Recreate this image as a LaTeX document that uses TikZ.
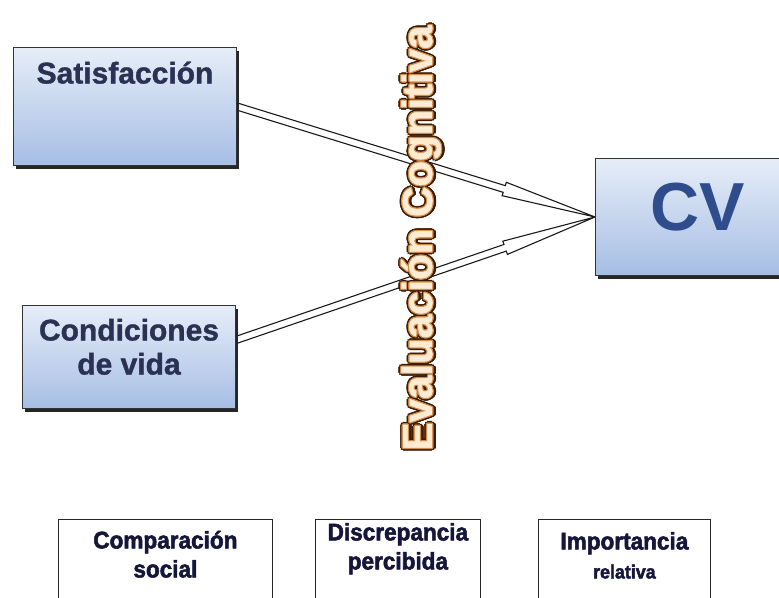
\documentclass[tikz,border=0pt]{standalone}
\usepackage{fontspec}
\setmainfont{Liberation Sans}
\newfontfamily\heavysans[BoldFeatures={FakeBold=2.2, FakeStretch=0.94}]{Liberation Sans}
\newfontfamily\titlesans[BoldFeatures={FakeBold=1.2}]{Liberation Sans}
\usetikzlibrary{positioning}
\usetikzlibrary{calc}
\usetikzlibrary{shadows}
\usetikzlibrary{backgrounds}

\definecolor{boxtop}{HTML}{E6EDF8}
\definecolor{boxbot}{HTML}{A6BEE4}
\definecolor{labelnavy}{HTML}{2A3152}
\definecolor{cvblue}{HTML}{2F4C8C}
\definecolor{bottomtext}{HTML}{15163A}
\definecolor{evaldark}{HTML}{3A1B06}
\definecolor{evalmid}{HTML}{D38A46}
\definecolor{evallight}{HTML}{FDEBD3}

% white double-lined arrow with an open head
\newcommand{\hollowarrow}[2]{%
  \coordinate (hb) at ($(#2)!95pt!(#1)$);
  \filldraw[hollow] ($(#1)!3.5pt!90:(#2)$) -- ($(hb)!3.5pt!90:(#2)$) -- ($(hb)!7pt!90:(#2)$)
    -- (#2) -- ($(hb)!7pt!-90:(#2)$) -- ($(hb)!3.5pt!-90:(#2)$) -- ($(#1)!3.5pt!-90:(#2)$) -- cycle;
}

\tikzset{
  bluebox/.style={draw=black!80, line width=1pt, top color=boxtop, bottom color=boxbot,
    inner sep=0pt, anchor=north west, text=labelnavy,
    drop shadow={shadow xshift=2.5pt, shadow yshift=-3.5pt, opacity=1, fill=black!85}},
  whitebox/.style={draw=black!85, line width=0.8pt, fill=white, inner sep=0pt,
    anchor=north west, align=center, text=bottomtext,
    font=\fontsize{24}{29}\selectfont\heavysans\bfseries},
  hollow/.style={draw=black!90, line width=1.1pt, fill=white, line join=miter},
  evaltext/.style={font=\fontsize{42}{48}\selectfont\titlesans\bfseries, inner sep=0pt, rotate=90},
}

\begin{document}
\begin{tikzpicture}[x=1pt, y=1pt]
  \useasboundingbox (0,0) rectangle (779,-597);

  \node[bluebox, minimum width=223pt, text height=36pt, text depth=82pt,
    font=\fontsize{30}{34}\selectfont\titlesans\bfseries] (sat) at (13,-47) {Satisfacción};
  \node[bluebox, align=center, minimum width=213pt, text height=69pt, text depth=34pt,
    font=\fontsize{30}{34}\selectfont\titlesans\bfseries] (cond) at (22,-305) {Condiciones\\de vida};
  \node[bluebox, minimum width=205pt, text height=72pt, text depth=45pt,
    font=\fontsize{68}{74}\selectfont\bfseries, text=cvblue] (cv) at (595,-158) {CV};

  \coordinate (condout) at ($(cond.east)+(0,17)$);
  \begin{scope}[on background layer]
    \hollowarrow{sat.east}{cv.west}
    \hollowarrow{condout}{cv.west}
  \end{scope}

  % outline and glow behind the vertical title
  \coordinate (evalc) at (421,-238);
  \foreach \dx/\dy in {2.8/0,2/2,0/2.8,-2/2,-2.8/0,-2/-2,0/-2.8,2/-2,3.4/-0.8,3.2/0.9,3.6/0}
    \node[evaltext, text=evaldark] at ($(evalc)+(\dx,\dy)$) {Evaluación Cognitiva};
  \foreach \dx/\dy in {1.2/0,0/1.2,-1.2/0,0/-1.2,.85/.85,-.85/-.85,.85/-.85,-.85/.85}
    \node[evaltext, text=evalmid] at ($(evalc)+(\dx,\dy)$) {Evaluación Cognitiva};
  \node[evaltext, text=evallight] (eval) at (evalc) {Evaluación Cognitiva};

  \node[whitebox, minimum width=214pt, text height=58pt, text depth=80pt] (comp) at (58,-519) {Comparación\\social};
  \node[whitebox, minimum width=165pt, text height=50pt, text depth=80pt] (disc) at (315,-519) {Discrepancia\\percibida};
  \node[whitebox, minimum width=172pt, text height=59pt, text depth=80pt] (imp) at (538,-519) {Importancia\\{\fontsize{19}{22}\selectfont relativa}};
\end{tikzpicture}
\end{document}
